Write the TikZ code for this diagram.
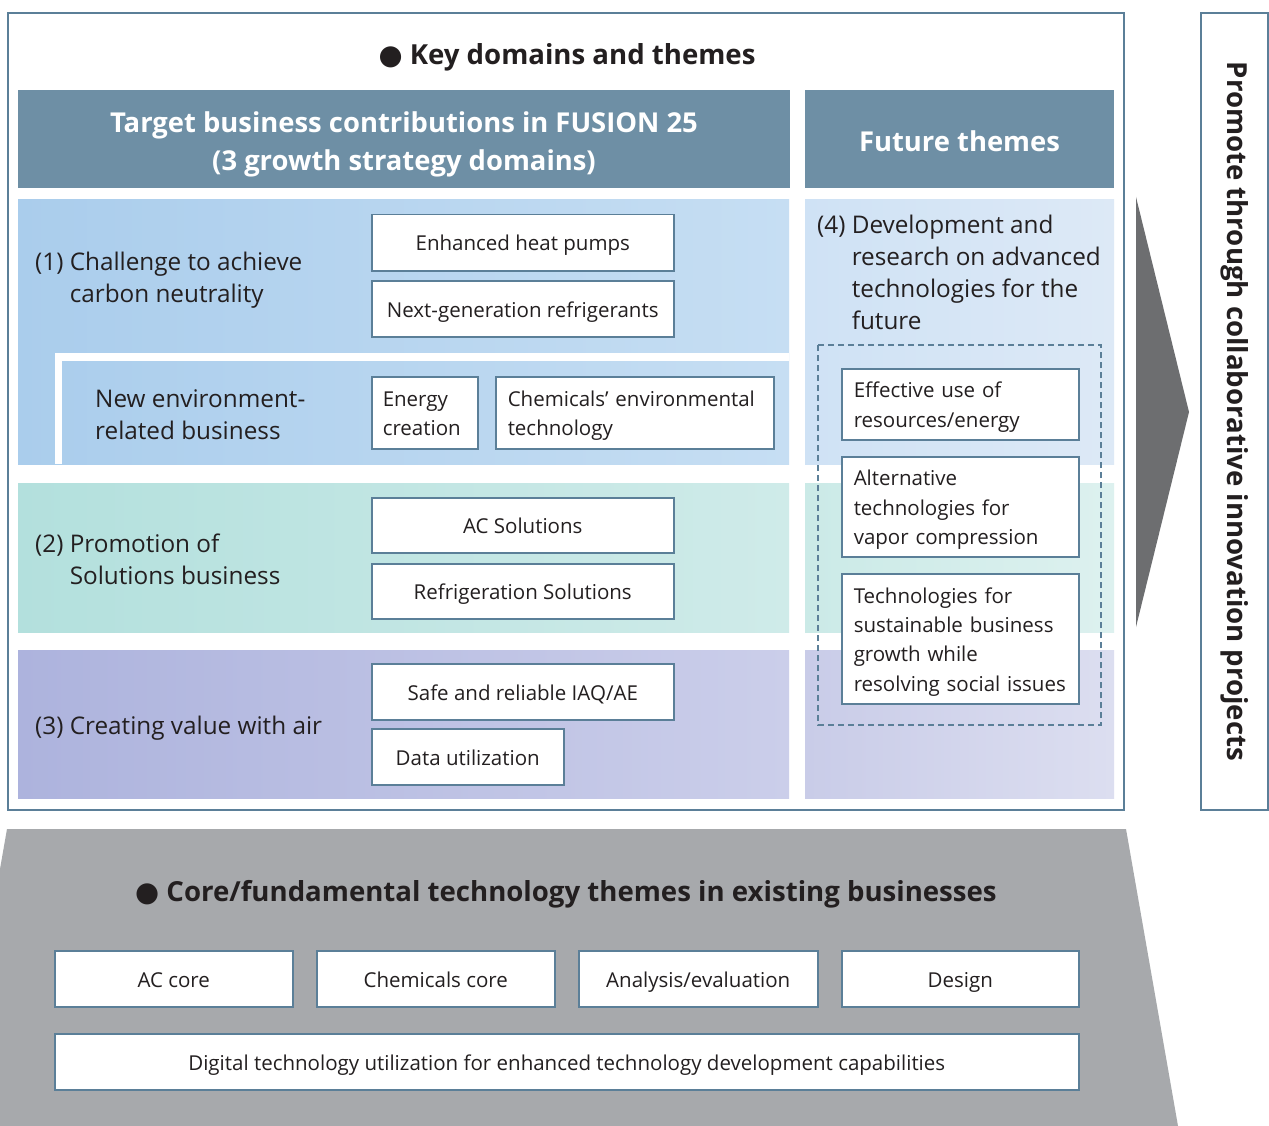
\documentclass[tikz,border=0pt]{standalone}
\usepackage{fontspec}
\setmainfont{Open Sans}
\newfontfamily\symf{DejaVu Sans}
\definecolor{bord}{HTML}{5B7F98}
\definecolor{hdr}{HTML}{6E8FA5}
\definecolor{txt}{HTML}{231F20}
\definecolor{rAL}{HTML}{AACDEC}
\definecolor{rAR}{HTML}{C6DEF3}
\definecolor{rBL}{HTML}{B3E0DD}
\definecolor{rBR}{HTML}{CFEBE9}
\definecolor{rCL}{HTML}{ADB3DD}
\definecolor{rCR}{HTML}{CBCEEA}
\definecolor{fAL}{HTML}{CFE2F5}
\definecolor{fAR}{HTML}{DDE9F6}
\definecolor{fBL}{HTML}{CBEAE7}
\definecolor{fBR}{HTML}{DDF1EF}
\definecolor{fCL}{HTML}{C9CCE8}
\definecolor{fCR}{HTML}{DCDEF0}
\definecolor{grayb}{HTML}{A7A9AC}
\definecolor{arrowc}{HTML}{6D6E70}
\newcommand\bodyf{\fontsize{20.5}{28.5}\selectfont}
\newcommand\bodyg{\fontsize{20.5}{29.3}\selectfont}
\newcommand\labf{\fontsize{24.3}{32}\selectfont}
\newcommand\hdrf{\bfseries\fontsize{27.4}{38}\selectfont}
\newcommand\ttlf{\bfseries\fontsize{27.6}{32}\selectfont}
\newcommand\ml[1]{\raisebox{-2.5pt}[\height][\depth]{\begin{tabular}{@{}l@{}}#1\end{tabular}}}
\tikzset{
  wbox/.style={draw=bord, line width=1.5pt, fill=white, text=txt, font=\bodyf, inner sep=0pt, anchor=north west},
  sbox/.style={wbox, text height=21pt, text depth=4.5pt},
  lbox/.style={wbox, align=left, inner xsep=12pt},
  gbox/.style={lbox, font=\bodyg},
  lab/.style={text=txt, font=\labf, inner sep=0pt, anchor=west, align=left},
  hdrtext/.style={text=white, font=\hdrf, align=center, inner sep=0pt},
  ttl/.style={text=txt, font=\ttlf, inner sep=0pt},
}
\begin{document}
\begin{tikzpicture}[x=1pt,y=-1pt]
\useasboundingbox (0,0) rectangle (1269,1126);
\fill[white] (0,0) rectangle (1269,1126);
% outer frame
\draw[bord, line width=2pt] (8,13) rectangle (1124,810);
\node[ttl] (title) at (567,57) {{\symf ●} Key domains and themes};
% headers
\fill[hdr] (18,90) rectangle (790,188);
\fill[hdr] (805,90) rectangle (1114,188);
\node[hdrtext] (hL) at (404,144) {Target business contributions in FUSION 25\\(3 growth strategy domains)};
\node[hdrtext] (hR) at (959.5,141.5) {Future themes};
% row backgrounds
\shade[left color=rAL, right color=rAR] (18,200) rectangle (789,464);
\shade[left color=rBL, right color=rBR] (18,483) rectangle (789,632);
\shade[left color=rCL, right color=rCR] (18,650) rectangle (789,798);
\shade[left color=fAL, right color=fAR] (805,200) rectangle (1114,464);
\shade[left color=fBL, right color=fBR] (805,483) rectangle (1114,632);
\shade[left color=fCL, right color=fCR] (805,650) rectangle (1114,798);
\fill[white] (55,353) rectangle (789,361);
\fill[white] (55,353) rectangle (62,464);
% row labels
\node[lab] (l1) at (35,280) {\begin{tabular}{@{}l@{\ }l@{}}(1)&Challenge to achieve\\&carbon neutrality\end{tabular}};
\node[lab] (lnew) at (95,415) {\ml{New environment-\\related business}};
\node[lab] (l2) at (35,562) {\begin{tabular}{@{}l@{\ }l@{}}(2)&Promotion of\\&Solutions business\end{tabular}};
\node[lab] (l3) at (35,728) {(3) Creating value with air};
\node[lab] (l4) at (817,275) {\begin{tabular}{@{}l@{\ }l@{}}(4)&Development and\\&research on advanced\\&technologies for the\\&future\end{tabular}};
% boxes row 1
\node[sbox, minimum width=302pt, minimum height=56pt] (heat) at (371,214) {Enhanced heat pumps};
\node[sbox, minimum width=302pt, minimum height=56pt] (refr) at (371,280) {Next-generation refrigerants};
\node[lbox, inner xsep=11pt, text width=84pt, minimum height=72pt] (energy) at (371,376) {\ml{Energy\\creation}};
\node[lbox, text width=254pt, minimum height=72pt] (chem) at (495,376) {\ml{Chemicals’ environmental\\technology}};
% row 2
\node[sbox, minimum width=302pt, minimum height=55pt] (acs) at (371,497) {AC Solutions};
\node[sbox, minimum width=302pt, minimum height=55pt] (rfs) at (371,563) {Refrigeration Solutions};
% row 3
\node[sbox, minimum width=302pt, minimum height=56pt] (safe) at (371,663) {Safe and reliable IAQ/AE};
\node[sbox, minimum width=192pt, minimum height=56pt] (data) at (371,728) {Data utilization};
% future themes
\draw[bord, line width=1.5pt, dash pattern=on 6pt off 4pt] (818,345) rectangle (1101,725);
\node[gbox, text width=213pt, minimum height=71pt] (eff) at (841,368) {\ml{Effective use of\\resources/energy}};
\node[gbox, text width=213pt, minimum height=100pt] (alt) at (841,456) {\ml{Alternative\\technologies for\\vapor compression}};
\node[gbox, text width=213pt, minimum height=130pt] (sus) at (841,573) {\ml{Technologies for\\sustainable business\\growth while\\resolving social issues}};
% arrow and vertical box
\fill[arrowc] (1136,197) -- (1189,412) -- (1136,627) -- cycle;
\node[draw=bord, line width=2pt, rotate=-90, minimum width=797pt, minimum height=67pt, inner sep=0pt, text=txt, font=\bfseries\fontsize{27.6}{30}\selectfont] (promo) at (1234.5,411.5) {Promote through collaborative innovation projects};
% bottom
\fill[grayb] (7,829) -- (1126,829) -- (1178,1126) -- (0,1126) -- (0,869) -- cycle;
\node[ttl] (core) at (566,894) {{\symf ●} Core/fundamental technology themes in existing businesses};
\node[sbox, minimum width=238pt, minimum height=56pt] (acc) at (54,950) {AC core};
\node[sbox, minimum width=238pt, minimum height=56pt] (chc) at (316,950) {Chemicals core};
\node[sbox, minimum width=239pt, minimum height=56pt] (ana) at (578,950) {Analysis/evaluation};
\node[sbox, minimum width=237pt, minimum height=56pt] (des) at (841,950) {Design};
\node[sbox, minimum width=1024pt, minimum height=56pt] (dig) at (54,1033) {Digital technology utilization for enhanced technology development capabilities};
\end{tikzpicture}
\end{document}
